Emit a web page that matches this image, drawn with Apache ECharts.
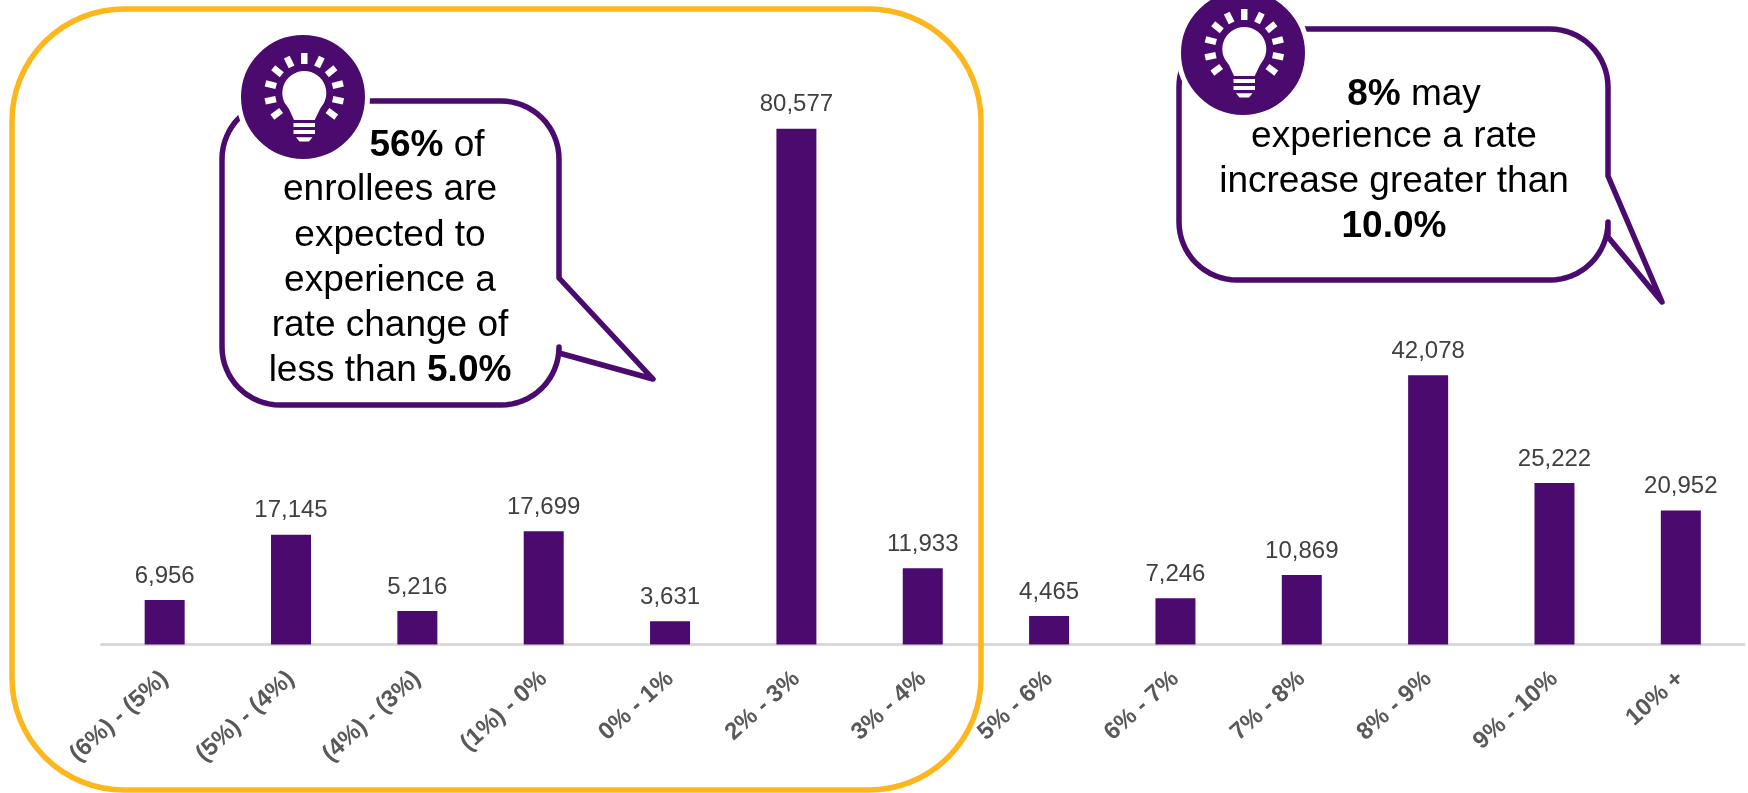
<!DOCTYPE html>
<html>
<head>
<meta charset="utf-8">
<style>html,body{margin:0;padding:0;background:#fff}#chart{width:1748px;height:793px}</style>
<script src="https://cdn.jsdelivr.net/npm/echarts@6/dist/echarts.min.js"></script>
</head>
<body>
<div id="chart"></div>
<script>
const categories = ['(6%) - (5%)','(5%) - (4%)','(4%) - (3%)','(1%) - 0%','0% - 1%','2% - 3%','3% - 4%','5% - 6%','6% - 7%','7% - 8%','8% - 9%','9% - 10%','10% +'];
const enrollees = [6956,17145,5216,17699,3631,80577,11933,4465,7246,10869,42078,25222,20952];
const leftNote = ['{b|56%} of','enrollees are','expected to','experience a','rate change of','less than {b|5.0%}'];
const rightNote = ['{b|8%} may','experience a rate','increase greater than','{b|10.0%}'];

const PURPLE = '#4A0A6E';
const FONT = '"Liberation Sans", Arial, sans-serif';

// Outline of a rounded speech bubble whose tail leaves from the right edge.
function bubblePoints(l, t, r, b, rad, tail) {
  const pts = [];
  const arc = (cx, cy, from) => {
    for (let i = 0; i <= 16; i++) {
      const a = (from + i * 90 / 16) * Math.PI / 180;
      pts.push([cx + rad * Math.cos(a), cy + rad * Math.sin(a)]);
    }
  };
  arc(l + rad, t + rad, 180);
  arc(r - rad, t + rad, 270);
  pts.push([r, tail.start], tail.tip, [r, tail.end]);
  arc(r - rad, b - rad, 0);
  arc(l + rad, b - rad, 90);
  pts.push(pts[0]);
  return pts;
}

// Light-bulb badge drawn around its centre point.
function badge(cx, cy) {
  const at = (x, y) => [cx + x, cy + y];
  const bulbX = 1.3, bulbY = -4;
  const rays = [0, 26, 51, 76, 102, 127, -26, -51, -76, -102, -127];
  const children = [{
    type: 'circle', z: 20,
    shape: { cx, cy, r: 64.5 },
    style: { fill: PURPLE, stroke: '#fff', lineWidth: 5 }
  }];
  rays.forEach(deg => {
    const a = deg * Math.PI / 180;
    const ux = Math.sin(a), uy = -Math.cos(a);
    const corner = (d, s) => at(bulbX + ux * d - uy * s, bulbY + uy * d + ux * s);
    children.push({
      type: 'polygon', z: 21,
      shape: { points: [corner(29, 3.2), corner(40, 3.2), corner(40, -3.2), corner(29, -3.2)] },
      style: { fill: '#fff' }
    });
  });
  // Glass of the bulb: a round head narrowing into the neck.
  const glass = [];
  for (let d = 27; d >= -207; d -= 9) {
    const a = d * Math.PI / 180;
    glass.push(at(bulbX + 22 * Math.cos(a), bulbY + 22 * Math.sin(a)));
  }
  glass.push(at(-14, 12), at(-9, 23), at(11.7, 23), at(17, 12));
  children.push({ type: 'polygon', z: 21, shape: { points: glass }, style: { fill: '#fff' } });
  // Screw base stripes.
  children.push({ type: 'rect', z: 21, shape: { x: cx - 9.5, y: cy + 26, width: 21.5, height: 4 }, style: { fill: '#fff' } });
  children.push({ type: 'rect', z: 21, shape: { x: cx - 9.5, y: cy + 33, width: 21.5, height: 4 }, style: { fill: '#fff' } });
  children.push({ type: 'polygon', z: 21, shape: { points: [at(-7, 40.3), at(9.5, 40.3), at(6, 44.5), at(-3.5, 44.5)] }, style: { fill: '#fff' } });
  return children;
}

function noteLines(lines, centres, ys) {
  return lines.map((text, i) => ({
    type: 'text', z: 22,
    style: {
      text, x: centres[i], y: ys[i],
      align: 'center', verticalAlign: 'middle',
      font: '37px ' + FONT, fill: '#000',
      rich: { b: { font: 'bold 37px ' + FONT, fill: '#000' } }
    }
  }));
}

function bubble(l, t, r, b, tail) {
  return {
    type: 'polyline', z: 10,
    shape: { points: bubblePoints(l, t, r, b, 58, tail) },
    style: { fill: '#fff', stroke: PURPLE, lineWidth: 5.5, lineJoin: 'round', lineCap: 'round' }
  };
}

const annotations = [
  {
    type: 'rect', z: 5,
    shape: { x: 12, y: 9, width: 969, height: 781, r: 112 },
    style: { fill: 'none', stroke: '#FDB71C', lineWidth: 5.5 }
  },
  bubble(222, 101, 559, 405, { start: 278, tip: [653, 379], end: 353 }),
  ...badge(303, 97),
  ...noteLines(leftNote, [427, 390, 390, 390, 390, 390], [146, 190, 236, 281, 326, 371]),
  bubble(1179, 29, 1608, 280, { start: 176, tip: [1662, 302], end: 237 }),
  ...badge(1243, 53),
  ...noteLines(rightNote, [1414, 1394, 1394, 1394], [95, 137, 182, 227])
];

const chart = echarts.init(document.getElementById('chart'), null, { renderer: 'canvas' });
chart.setOption({
  animation: false,
  backgroundColor: '#fff',
  grid: { left: 101.5, right: 4, top: 68.5, height: 576, containLabel: false },
  xAxis: {
    type: 'category',
    data: categories,
    axisTick: { show: false },
    axisLine: { lineStyle: { color: '#D9D9D9', width: 3 } },
    axisLabel: {
      interval: 0, rotate: 42, margin: 31,
      color: '#595959', fontFamily: FONT, fontWeight: 'bold', fontSize: 24
    }
  },
  yAxis: { type: 'value', min: 0, max: 90000, show: false, splitLine: { show: false } },
  series: [{
    type: 'bar',
    data: enrollees,
    barWidth: 40,
    itemStyle: { color: PURPLE },
    label: {
      show: true, position: 'top', distance: 12,
      color: '#404040', fontFamily: FONT, fontSize: 24,
      formatter: p => p.value.toLocaleString('en-US')
    }
  }],
  graphic: { elements: annotations }
});
</script>
</body>
</html>
